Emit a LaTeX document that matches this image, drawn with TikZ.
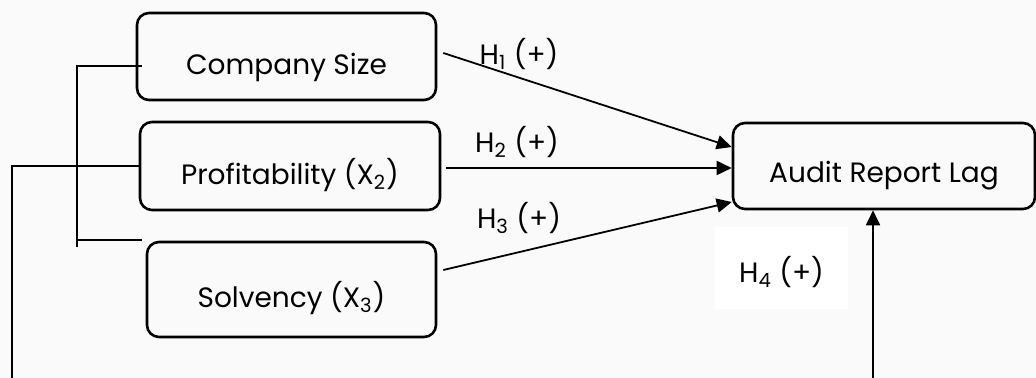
\documentclass[tikz,border=0pt]{standalone}
\usepackage{fontspec}
\setmainfont{Poppins}
\usetikzlibrary{arrows.meta}
\definecolor{paper}{RGB}{250,250,250}
\begin{document}
\begin{tikzpicture}[x=0.5pt,y=-0.5pt,
  varbox/.style={draw,line width=1.3pt,rounded corners=6pt,inner sep=0pt,font=\fontsize{14}{17}\selectfont},
  hyp/.style={anchor=base,inner sep=0pt,font=\fontsize{14}{17}\selectfont},
  link/.style={line width=0.9pt},
  arr/.style={link,-{Triangle[length=7.5pt,width=7pt]}}]
\fill[paper] (0,0) rectangle (1036,378);
\useasboundingbox (0,0) rectangle (1036,378);
\node[varbox,minimum width=149.5pt,text height=31pt,text depth=12.5pt] (size) at (286.5,56.5) {Company Size};
\node[varbox,minimum width=150pt,text height=31.5pt,text depth=12.5pt] (prof) at (290,166) {Profitability (X\textsubscript{2})};
\node[varbox,minimum width=144.5pt,text height=33pt,text depth=14.5pt] (solv) at (291.5,289.5) {Solvency (X\textsubscript{3})};
\node[varbox,minimum width=151pt,text height=30pt,text depth=13pt] (lag) at (884,166) {Audit Report Lag};
\node[hyp] (h1) at (519,65) {H\textsubscript{1} (+)};
\node[hyp] (h2) at (517,153) {H\textsubscript{2} (+)};
\node[hyp] (h3) at (519,229) {H\textsubscript{3} (+)};
\node[hyp,anchor=center,fill=white,minimum width=66.5pt,text height=28pt,text depth=13pt] (h4) at (781.5,268) {H\textsubscript{4} (+)};
\draw[arr] ([xshift=3pt,yshift=1.75pt]size.east) -- ([yshift=9.5pt]lag.west);
\draw[arr] ([xshift=2.5pt,yshift=-1pt]prof.east) -- ([yshift=-1pt]prof.east -| lag.west);
\draw[arr] ([xshift=3pt,yshift=9.75pt]solv.east) -- ([yshift=-18pt]lag.west);
\coordinate (mod) at (873,378);
\draw[arr] (mod) -- (mod |- lag.south);
\coordinate (brtop) at (77,66);
\coordinate (brbot) at (77,247);
\draw[link] (brbot) -- (brtop) -- ([xshift=3pt]brtop -| size.west);
\draw[link] ([yshift=3.5pt]brbot) -- ([xshift=-2pt,yshift=3.5pt]brbot -| solv.west);
\coordinate (ctl) at (12,378);
\draw[link] (ctl) -- (ctl |- prof.west) -- (prof.west);
\end{tikzpicture}
\end{document}
